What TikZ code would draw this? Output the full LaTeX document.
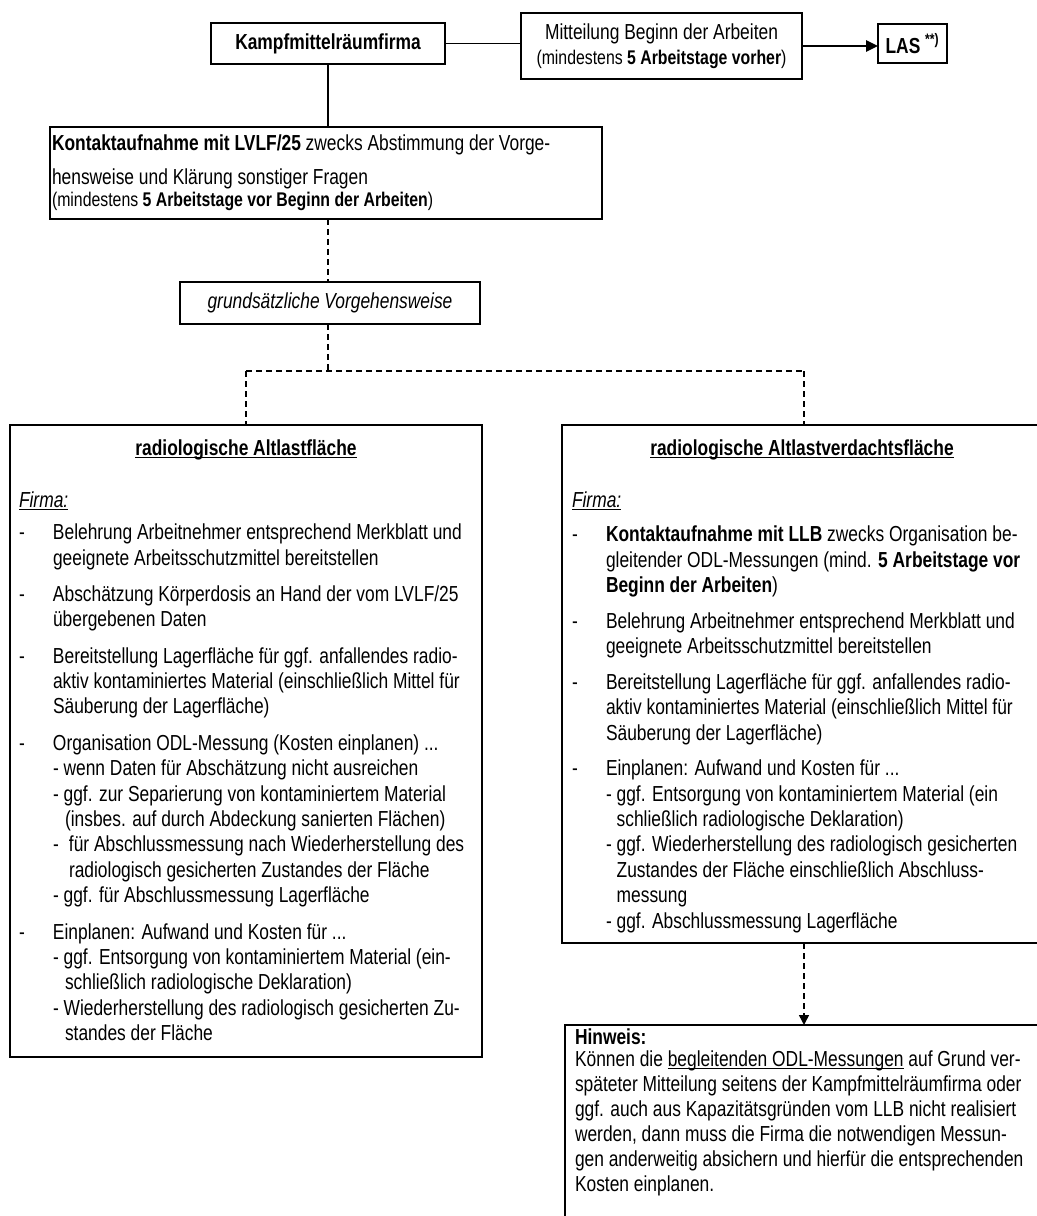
\documentclass[tikz,border=0pt]{standalone}
\usepackage{fontspec}
\setmainfont{Liberation Sans}[FakeStretch=0.8]
\usetikzlibrary{arrows.meta}
\newsavebox\myulbox
\newcommand\myul[1]{\leavevmode\sbox\myulbox{#1}\rlap{\rule[-2.4pt]{\wd\myulbox}{0.9pt}}\usebox\myulbox}
\newcommand\bodyfont{\fontsize{16.3pt}{19.1pt}\selectfont}
\newcommand\smallbody{\fontsize{14.85pt}{17pt}\selectfont}
\newcommand\dashitem{\makebox[25.5pt][l]{-}}
\newcommand\contind{\hspace*{25.5pt}}
\begin{document}
\begin{tikzpicture}[x=0.75pt,y=-0.75pt,
  bx/.style={draw,line width=1.4pt,inner sep=0pt,outer sep=0pt},
  conn/.style={line width=1.3pt},
  dconn/.style={line width=1.1pt,dash pattern=on 4.5pt off 3pt},
  tri/.style={-{Triangle[length=9pt,width=8.5pt]}},
  tritwo/.style={-{Triangle[length=7.5pt,width=7.5pt]}},
  content/.style={anchor=base west,inner sep=0pt,outer sep=0pt},
  title/.style={anchor=base,inner sep=0pt,font=\bodyfont\bfseries}]
\useasboundingbox (0,0) rectangle (1037,1216);
\fill[white] (0,0) rectangle (1037,1216);
\clip (0,0) rectangle (1037,1216);

% boxes
\node[bx,minimum width=175.5pt,minimum height=30.75pt,font=\bodyfont\bfseries] (kampf) at (328,43.5) {Kampfmittelräumfirma};
\node[bx,minimum width=210.75pt,minimum height=49.5pt,align=center,font=\bodyfont] (mitt) at (661.5,46)
  {Mitteilung Beginn der Arbeiten\\{\smallbody(mindestens \textbf{5 Arbeitstage vorher})}};
\node[bx,minimum width=51.75pt,minimum height=29.25pt,font=\bodyfont\bfseries] (las) at (912.5,43.5) {LAS \textsuperscript{**)}};
\node[bx,minimum width=414pt,minimum height=69pt] (kontakt) at (326,173) {};
\node[bx,minimum width=225pt,minimum height=31.5pt,font=\bodyfont\itshape] (grund) at (330,303) {grundsätzliche Vorgehensweise};
\node[bx,minimum width=354pt,minimum height=474pt] (left) at (246,741) {};
\node[bx,minimum width=363pt,minimum height=388.5pt] (right) at (804,684) {};
\node[bx,minimum width=358.5pt,minimum height=161.25pt] (hinweis) at (804,1132.5) {};

% connectors
\coordinate (split) at (328,371);
\draw[conn] (kampf.east) -- (kampf.east -| mitt.west);
\draw[conn,tri] (mitt.east) -- (mitt.east -| las.west);
\draw[conn] (kampf.south) -- (kampf.south |- kontakt.north);
\draw[dconn] (kampf.south |- kontakt.south) -- (kampf.south |- grund.north);
\draw[dconn] (split |- grund.south) -- (split);
\draw[dconn] (split -| left.north) -- (split -| right.north);
\draw[dconn] (split -| left.north) -- (left.north);
\draw[dconn] (split -| right.north) -- (right.north);
\draw[dconn,tritwo] (right.south) -- (hinweis.north);

% texts
\node[content] (kontakttext) at (52,151) {\parbox[t]{500pt}{\bodyfont\raggedright
\textbf{Kontaktaufnahme mit LVLF/25} zwecks Abstimmung der Vorge-\\[6pt]
hensweise und Klärung sonstiger Fragen\\[-2.6pt]
{\smallbody(mindestens \textbf{5 Arbeitstage vor Beginn der Arbeiten})}}};

\node[title] (ltitle) at (246,455) {\myul{radiologische Altlastfläche}};
\node[title] (rtitle) at (802,455) {\myul{radiologische Altlastverdachtsfläche}};

\node[content] (ltext) at (19,507) {\parbox[t]{500pt}{\bodyfont\raggedright
\myul{\textit{Firma:}}\\[5.5pt]
\dashitem Belehrung Arbeitnehmer entsprechend Merkblatt und\\
\contind geeignete Arbeitsschutzmittel bereitstellen\\[8pt]
\dashitem Abschätzung Körperdosis an Hand der vom LVLF/25\\
\contind übergebenen Daten\\[8pt]
\dashitem Bereitstellung Lagerfläche für ggf. anfallendes radio-\\
\contind aktiv kontaminiertes Material (einschließlich Mittel für\\
\contind Säuberung der Lagerfläche)\\[8pt]
\dashitem Organisation ODL-Messung (Kosten einplanen) ...\\
\contind - wenn Daten für Abschätzung nicht ausreichen\\
\contind - ggf. zur Separierung von kontaminiertem Material\\
\contind\hspace*{9pt}(insbes. auf durch Abdeckung sanierten Flächen)\\
\contind - \hspace{4pt}für Abschlussmessung nach Wiederherstellung des\\
\contind\hspace*{12pt}radiologisch gesicherten Zustandes der Fläche\\
\contind - ggf. für Abschlussmessung Lagerfläche\\[8pt]
\dashitem Einplanen: Aufwand und Kosten für ...\\
\contind - ggf. Entsorgung von kontaminiertem Material (ein-\\
\contind\hspace*{9pt}schließlich radiologische Deklaration)\\
\contind - Wiederherstellung des radiologisch gesicherten Zu-\\
\contind\hspace*{9pt}standes der Fläche}};

\node[content] (rtext) at (572,507) {\parbox[t]{500pt}{\bodyfont\raggedright
\myul{\textit{Firma:}}\\[7pt]
\dashitem\textbf{Kontaktaufnahme mit LLB} zwecks Organisation be-\\
\contind gleitender ODL-Messungen (mind. \textbf{5 Arbeitstage vor}\\
\contind\textbf{Beginn der Arbeiten})\\[7.5pt]
\dashitem Belehrung Arbeitnehmer entsprechend Merkblatt und\\
\contind geeignete Arbeitsschutzmittel bereitstellen\\[7.5pt]
\dashitem Bereitstellung Lagerfläche für ggf. anfallendes radio-\\
\contind aktiv kontaminiertes Material (einschließlich Mittel für\\
\contind Säuberung der Lagerfläche)\\[7.5pt]
\dashitem Einplanen: Aufwand und Kosten für ...\\
\contind - ggf. Entsorgung von kontaminiertem Material (ein\\
\contind\hspace*{8pt}schließlich radiologische Deklaration)\\
\contind - ggf. Wiederherstellung des radiologisch gesicherten\\
\contind\hspace*{8pt}Zustandes der Fläche einschließlich Abschluss-\\
\contind\hspace*{8pt}messung\\
\contind - ggf. Abschlussmessung Lagerfläche}};

\node[content] (htext) at (575,1044) {\parbox[t]{500pt}{\fontsize{16.3pt}{18.75pt}\selectfont\raggedright
\textbf{Hinweis:}\\[-2.2pt]
Können die \myul{begleitenden ODL-Messungen} auf Grund ver-\\
späteter Mitteilung seitens der Kampfmittelräumfirma oder\\
ggf. auch aus Kapazitätsgründen vom LLB nicht realisiert\\
werden, dann muss die Firma die notwendigen Messun-\\
gen anderweitig absichern und hierfür die entsprechenden\\
Kosten einplanen.}};
\end{tikzpicture}
\end{document}
